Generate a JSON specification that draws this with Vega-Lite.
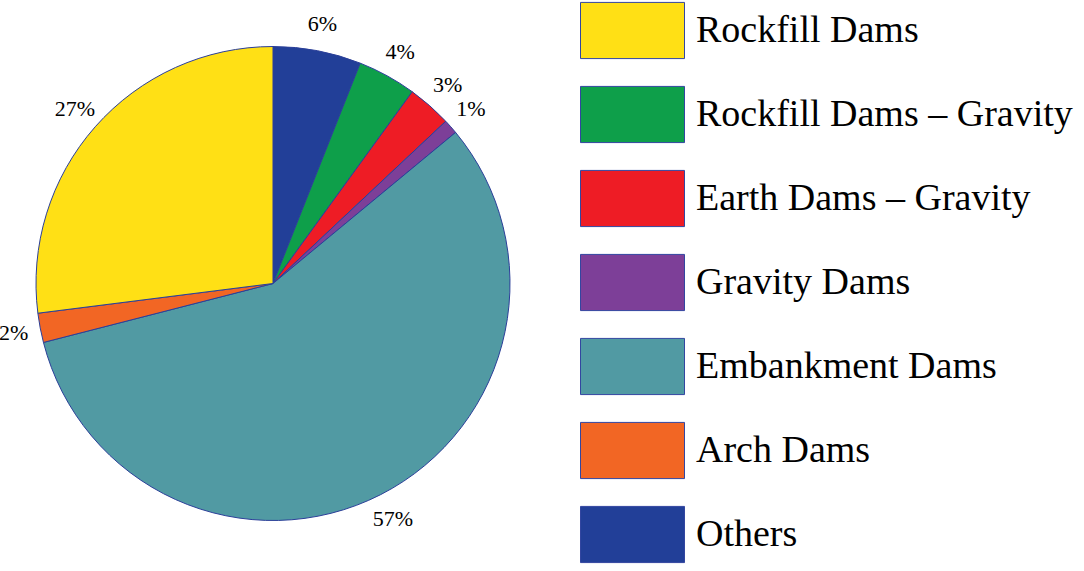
{
  "$schema": "https://vega.github.io/schema/vega-lite/v6.json",
  "width": 546,
  "height": 521,
  "padding": {"left": 0, "top": 23, "right": 538, "bottom": 27},
  "autosize": {"type": "none"},
  "background": "white",
  "config": {"view": {"stroke": null}},
  "data": {
    "values": [
      {"type": "Others", "share": 6, "label": "6%", "seq": 1},
      {"type": "Rockfill Dams – Gravity", "share": 4, "label": "4%", "seq": 2},
      {"type": "Earth Dams – Gravity", "share": 3, "label": "3%", "seq": 3},
      {"type": "Gravity Dams", "share": 1, "label": "1%", "seq": 4},
      {"type": "Embankment Dams", "share": 57, "label": "57%", "seq": 5},
      {"type": "Arch Dams", "share": 2, "label": "2%", "seq": 6},
      {"type": "Rockfill Dams", "share": 27, "label": "27%", "seq": 7}
    ]
  },
  "encoding": {
    "theta": {"field": "share", "type": "quantitative", "stack": true},
    "order": {"field": "seq", "type": "quantitative"}
  },
  "layer": [
    {
      "mark": {"type": "arc", "radius": 237, "stroke": "#2b3f99", "strokeWidth": 1},
      "encoding": {
        "color": {
          "field": "type",
          "type": "nominal",
          "scale": {
            "domain": ["Rockfill Dams", "Rockfill Dams – Gravity", "Earth Dams – Gravity", "Gravity Dams", "Embankment Dams", "Arch Dams", "Others"],
            "range": ["#FFE015", "#0E9F4A", "#EE1C25", "#7D3F98", "#519AA3", "#F26624", "#223F98"]
          },
          "legend": {
            "title": null,
            "orient": "none",
            "legendX": 580,
            "legendY": -45,
            "symbolType": "M-1,-0.54L1,-0.54L1,0.54L-1,0.54Z",
            "symbolSize": 10816,
            "symbolStrokeColor": "#3346a0",
            "symbolStrokeWidth": 1,
            "symbolOpacity": 1,
            "labelFont": "Liberation Serif",
            "labelFontSize": 38,
            "labelColor": "black",
            "labelLimit": 0,
            "labelOffset": 11,
            "rowPadding": 1
          }
        }
      }
    },
    {
      "mark": {"type": "text", "radius": 264, "font": "Liberation Serif", "fontSize": 22, "color": "black"},
      "encoding": {"text": {"field": "label"}}
    }
  ]
}
